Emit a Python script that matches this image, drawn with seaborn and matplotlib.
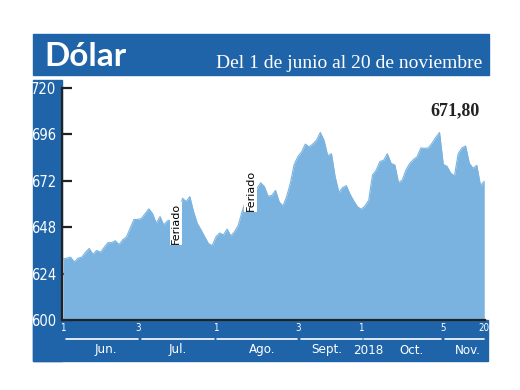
import matplotlib
matplotlib.use("Agg")
import matplotlib.pyplot as plt
from matplotlib.patches import Rectangle
from matplotlib import font_manager
import seaborn as sns
import pandas as pd
import numpy as np

# ---------------- data ----------------
values = [631.5, 632, 632.5, 630, 632, 632.5, 635, 637, 634, 636,
          635, 637.5, 640, 640, 641, 639, 641.5, 643, 647.5, 652,
          652, 652.5, 655, 657.5, 655, 650, 653.5, 649.2, 651.3, 651.8,
          652, 651.8, 663, 661.3, 663.8, 656, 650, 646.6, 643, 639.5,
          638.5, 643, 645, 644, 647, 643.5, 645.7, 649, 656, 661.5,
          664.7, 665, 668, 671, 669, 664, 664.5, 667, 661, 659,
          664, 671, 680.5, 684.5, 687, 691, 689.5, 691, 693, 697,
          693, 685, 686, 674, 666, 668.5, 669.5, 665, 661.5, 658.5,
          657.3, 659, 662, 675, 677.5, 682, 682.6, 686, 681, 680.2,
          671, 672.4, 677.6, 681, 683, 684.5, 689, 688.8, 689, 691.5,
          694.5, 697, 680.5, 679.5, 676, 674.5, 686, 689, 690, 681,
          678.5, 680, 669.5, 671.8]
day_index = list(range(len(values)))

tick_positions = [0, 20, 41, 63, 80, 102, 113]
tick_labels = ["1", "3", "1", "3", "1", "5", "20"]

y_ticks = [600, 624, 648, 672, 696, 720]

months = ["Jun.", "Jul.", "Ago.", "Sept.", "Oct.", "Nov."]
month_centers_px = [106, 178, 262, 327, 412, 468]
month_lines_px = [(66, 138), (142, 214), (217, 297), (301, 362), (364, 441), (445, 484)]

holiday_positions = [30.3, 50.3]
holiday_values = [650, 667]

title = "Dólar"
subtitle = "Del 1 de junio al 20 de noviembre"
last_label = "671,80"

df = pd.DataFrame({"dia": day_index, "valor": values})

# ---------------- style ----------------
sns.set_theme(style="white")
names = set(font_manager.get_font_names())
serif = "Liberation Serif" if "Liberation Serif" in names else "DejaVu Serif"
cond_family = ["Liberation Sans Narrow"] if "Liberation Sans Narrow" in names else ["DejaVu Sans"]
plt.rcParams["font.family"] = cond_family + ["DejaVu Sans"]
plt.rcParams["font.stretch"] = "condensed"

DARK = "#1f64a8"
FILL = "#7ab3e0"

W, H = 520, 390
fig = plt.figure(figsize=(5.2, 3.9), dpi=100)
fig.patch.set_facecolor("white")

def fx(px):
    return px / W

def fy(py):
    return 1 - py / H

# banner
fig.add_artist(Rectangle((fx(33), fy(75)), fx(489) - fx(33), fy(34) - fy(75),
                         transform=fig.transFigure, color=DARK, zorder=0))
# left strip
fig.add_artist(Rectangle((fx(33), fy(361)), fx(62) - fx(33), fy(80) - fy(361),
                         transform=fig.transFigure, color=DARK, zorder=0))
# bottom strip
fig.add_artist(Rectangle((fx(33), fy(361)), fx(488) - fx(33), fy(320) - fy(361),
                         transform=fig.transFigure, color=DARK, zorder=0))

fig.text(fx(44), fy(66.5), title, color="white", fontsize=24, fontweight="bold",
         family=["Lato", "DejaVu Sans"], fontstretch="normal", ha="left", va="baseline")
fig.text(fx(482), fy(67.5), subtitle, color="white", fontsize=14,
         family=[serif], fontstretch="normal", ha="right", va="baseline")

ax = fig.add_axes([fx(62), fy(320), fx(485) - fx(62), fy(88) - fy(320)])
ax.set_facecolor("none")
ax.fill_between(df["dia"], df["valor"], 600, color=FILL, lw=0, zorder=1)
sns.lineplot(data=df, x="dia", y="valor", ax=ax, color=FILL, lw=0.8, zorder=2)

ax.set_xlim(-0.3, 113.2)
ax.set_ylim(600, 720)
ax.set_yticks(y_ticks)
ax.set_yticklabels([str(v) for v in y_ticks], color="white", fontsize=10.5)
ax.tick_params(axis="y", direction="in", length=7, width=1.6, color="#222222",
               pad=4, left=True)
ax.set_xticks(tick_positions)
ax.set_xticklabels(tick_labels, color="white", fontsize=7)
ax.tick_params(axis="x", length=0, pad=2)
ax.set_xlabel("")
ax.set_ylabel("")
for s in ["top", "right"]:
    ax.spines[s].set_visible(False)
for s in ["left", "bottom"]:
    ax.spines[s].set_color("#222222")
    ax.spines[s].set_linewidth(1.6)

for xp, yv in zip(holiday_positions, holiday_values):
    ax.text(xp, yv, "Feriado", rotation=90, fontsize=8, color="black",
            family=["DejaVu Sans"], fontstretch="normal", ha="center", va="center", zorder=4,
            bbox=dict(boxstyle="square,pad=0.1", fc="white", ec="none"))

fig.text(fx(480), fy(111), last_label, color="#222222", fontsize=13,
         fontweight="bold", family=[serif], fontstretch="normal", ha="right", va="center")

# month lines and labels
for (a, b) in month_lines_px:
    fig.add_artist(plt.Line2D([fx(a), fx(b)], [fy(338.5), fy(338.5)],
                              transform=fig.transFigure, color="white", lw=1.2))
for m, c in zip(months, month_centers_px):
    fig.text(fx(c), fy(350), m, color="white", fontsize=9.5, ha="center", va="center")
fig.text(fx(368), fy(350), "2018", color="white", fontsize=9.5, ha="center", va="center")

fig.savefig("out.png", dpi=100)
